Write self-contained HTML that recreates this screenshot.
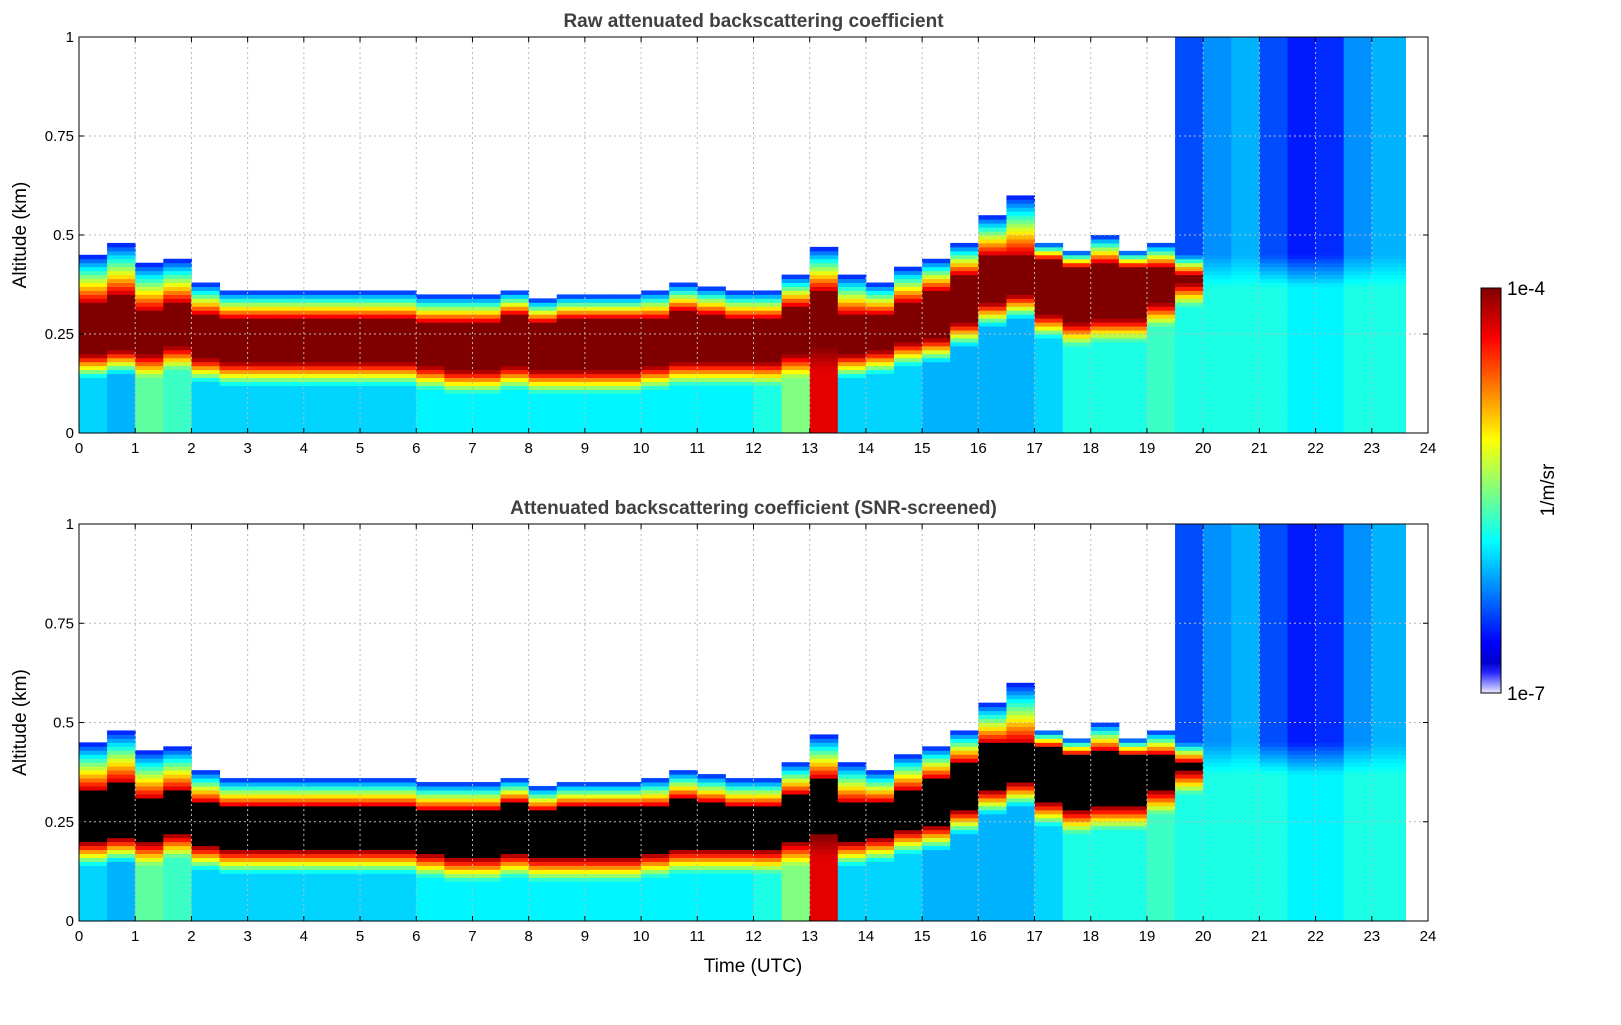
<!DOCTYPE html>
<html><head><meta charset="utf-8">
<style>
body{margin:0;background:#fff;}
svg text{font-family:"Liberation Sans","DejaVu Sans",sans-serif;}
</style></head>
<body>
<svg id="fig" width="1621" height="1020" xmlns="http://www.w3.org/2000/svg">
<defs>
<linearGradient id="cbar" x1="0" y1="1" x2="0" y2="0"></linearGradient>
</defs>
<g id="root"></g>
</svg>
<script>
// Half-hour bins (start times, hours UTC)
const times = [0,0.5,1,1.5,2,2.5,3,3.5,4,4.5,5,5.5,6,6.5,7,7.5,8,8.5,9,9.5,10,10.5,11,11.5,12,12.5,13,13.5,14,14.5,15,15.5,16,16.5,17,17.5,18,18.5,19,19.5,20,20.5,21,21.5,22,22.5,23,23.5];
// top of aerosol layer (km)
const blTop = [0.45,0.48,0.43,0.44,0.38,0.36,0.36,0.36,0.36,0.36,0.36,0.36,0.35,0.35,0.35,0.36,0.34,0.35,0.35,0.35,0.36,0.38,0.37,0.36,0.36,0.40,0.47,0.40,0.38,0.42,0.44,0.48,0.55,0.60,0.48,0.46,0.50,0.46,0.48,0.45,0.45,0.45,0.45,0.45,0.45,0.45,0.45,0.45];
// top of saturated core (km)
const coreTop = [0.33,0.35,0.31,0.33,0.30,0.29,0.29,0.29,0.29,0.29,0.29,0.29,0.28,0.28,0.28,0.30,0.28,0.29,0.29,0.29,0.29,0.31,0.30,0.29,0.29,0.32,0.36,0.30,0.30,0.33,0.36,0.40,0.45,0.45,0.44,0.42,0.43,0.42,0.42,0.40,0.40,0.38,0.38,0.38,0.38,0.38,0.38,0.38];
// bottom of saturated core (km)
const coreBot = [0.20,0.21,0.20,0.22,0.19,0.18,0.18,0.18,0.18,0.18,0.18,0.18,0.17,0.16,0.16,0.17,0.16,0.16,0.16,0.16,0.17,0.18,0.18,0.18,0.18,0.20,0.22,0.20,0.21,0.23,0.24,0.28,0.33,0.35,0.30,0.28,0.29,0.29,0.33,0.38,0.40,0.38,0.38,0.38,0.38,0.38,0.38,0.38];
// log10 backscatter near surface
const surfVal = [-6.0,-6.1,-5.6,-5.7,-6.0,-6.0,-6.0,-6.0,-6.0,-6.0,-6.0,-6.0,-5.9,-5.9,-5.9,-5.9,-5.9,-5.9,-5.9,-5.9,-5.9,-5.9,-5.9,-5.9,-5.8,-5.5,-4.3,-6.0,-6.0,-6.0,-6.1,-6.1,-6.1,-6.1,-6.0,-5.8,-5.8,-5.8,-5.7,-5.8,-5.8,-5.8,-5.8,-5.9,-5.9,-5.8,-5.8,-5.8];
// log10 backscatter aloft (null = no signal)
const aloftVal = [null,null,null,null,null,null,null,null,null,null,null,null,null,null,null,null,null,null,null,null,null,null,null,null,null,null,null,null,null,null,null,null,null,null,null,null,null,null,null,-6.4,-6.2,-6.1,-6.4,-6.55,-6.5,-6.2,-6.1,-6.1];
const xTicks = [0,1,2,3,4,5,6,7,8,9,10,11,12,13,14,15,16,17,18,19,20,21,22,23,24];
const yTicks = [0,0.25,0.5,0.75,1];
const yTickLabels = ["0","0.25","0.5","0.75","1"];
const dataEnd = 23.6;

const NS="http://www.w3.org/2000/svg";
const root=document.getElementById('root');
function mk(tag,attrs,parent){const e=document.createElementNS(NS,tag);for(const k in attrs)e.setAttribute(k,attrs[k]);(parent||root).appendChild(e);return e;}

function jet(t){
  t=Math.max(0,Math.min(1,t));
  if(t<0.06){const f=t/0.06;return `rgb(${Math.round(235-235*f)},${Math.round(235-235*f)},255)`;}
  const r=Math.min(4*t-1.5,-4*t+4.5),g=Math.min(4*t-0.5,-4*t+3.5),b=Math.min(4*t+0.5,-4*t+2.5);
  const c=v=>Math.round(255*Math.max(0,Math.min(1,v)));
  return `rgb(${c(r)},${c(g)},${c(b)})`;
}
function valAt(i,z){
  const hasCore=coreTop[i]>coreBot[i];
  if(!hasCore){
    if(z<blTop[i]-0.08) return surfVal[i];
    if(z<blTop[i]){const f=(z-(blTop[i]-0.08))/0.08;return surfVal[i]+(aloftVal[i]-surfVal[i])*f;}
    return aloftVal[i];
  }
  if(z<coreBot[i]-0.06) return surfVal[i];
  if(z<coreBot[i]) {const f=(z-(coreBot[i]-0.06))/0.06;return surfVal[i]+(-4.0-surfVal[i])*f;}
  if(z<coreTop[i]) return 4; // saturated marker
  if(z<blTop[i]){const f=(z-coreTop[i])/(blTop[i]-coreTop[i]);const top=aloftVal[i]===null?-6.6:aloftVal[i];return -4.2+(top+4.2)*f;}
  return aloftVal[i];
}

function panel(name,y0,y1,title,satColor){
  const x0=79,x1=1428;
  const X=t=>x0+(x1-x0)*t/24, Y=z=>y1-(y1-y0)*z;
  const g=mk('g',{});
  
  
  const hm=mk('g',{},g);
  
  
  const dz=0.01;
  for(let i=0;i<times.length;i++){
    const ta=times[i], tb=Math.min(times[i]+0.5,dataEnd);
    for(let k=0;k<100;k++){
      const z=k*dz+dz/2, v=valAt(i,z);
      if(v===null) continue;
      let fill;
      if(v===4) fill=satColor; else fill=jet((v+7)/3);
      const r=mk('rect',{x:X(ta),y:Y((k+1)*dz),width:X(tb)-X(ta)+0.5,height:(y1-y0)*dz+0.5,fill:fill},hm);
      
      
    }
  }
  xTicks.forEach(t=>{if(t>0&&t<24)mk('line',{x1:X(t),x2:X(t),y1:y0,y2:y1,stroke:'#bbb','stroke-dasharray':'2,3','stroke-width':1},g);});
  yTicks.forEach(z=>{if(z>0&&z<1)mk('line',{x1:x0,x2:x1,y1:Y(z),y2:Y(z),stroke:'#bbb','stroke-dasharray':'2,3','stroke-width':1},g);});
  const fr=mk('rect',{x:x0,y:y0,width:x1-x0,height:y1-y0,fill:'none',stroke:'#000','stroke-width':1},g);
  
  xTicks.forEach(t=>{
    mk('line',{x1:X(t),x2:X(t),y1:y1,y2:y1-5,stroke:'#000'},g);
    mk('line',{x1:X(t),x2:X(t),y1:y0,y2:y0+5,stroke:'#000'},g);
    const tx=mk('text',{x:X(t),y:y1+20,'font-size':15,'text-anchor':'middle'},g);tx.textContent=t;
    
  });
  yTicks.forEach((z,j)=>{
    mk('line',{x1:x0,x2:x0+5,y1:Y(z),y2:Y(z),stroke:'#000'},g);
    mk('line',{x1:x1,x2:x1-5,y1:Y(z),y2:Y(z),stroke:'#000'},g);
    const tx=mk('text',{x:x0-5,y:Y(z)+5,'font-size':15,'text-anchor':'end'},g);tx.textContent=yTickLabels[j];
    
  });
  const tt=mk('text',{x:(x0+x1)/2,y:y0-10,'font-size':19,'font-weight':'bold','text-anchor':'middle',fill:'#404040'},g);tt.textContent=title;
  
  const yl=mk('text',{x:0,y:0,'font-size':19,'text-anchor':'middle',transform:`translate(26,${(y0+y1)/2}) rotate(-90)`},g);yl.textContent='Altitude (km)';
  
}
panel('raw-panel',37,433,'Raw attenuated backscattering coefficient','#800000');
panel('snr-panel',524,921,'Attenuated backscattering coefficient (SNR-screened)','#000000');
const xl=mk('text',{x:753,y:972,'font-size':19,'text-anchor':'middle'});xl.textContent='Time (UTC)';

const grad=document.getElementById('cbar');
for(let s=0;s<=40;s++){const st=document.createElementNS(NS,'stop');st.setAttribute('offset',s/40);st.setAttribute('stop-color',jet(s/40));grad.appendChild(st);}
const cb=mk('rect',{x:1481,y:288,width:20,height:405,fill:'url(#cbar)',stroke:'#000','stroke-width':1});

const c1=mk('text',{x:1507,y:295,'font-size':19});c1.textContent='1e-4';

const c2=mk('text',{x:1507,y:700,'font-size':19});c2.textContent='1e-7';

const cu=mk('text',{x:0,y:0,'font-size':19,'text-anchor':'middle',transform:'translate(1554,490) rotate(-90)'});cu.textContent='1/m/sr';

</script>
</body></html>
